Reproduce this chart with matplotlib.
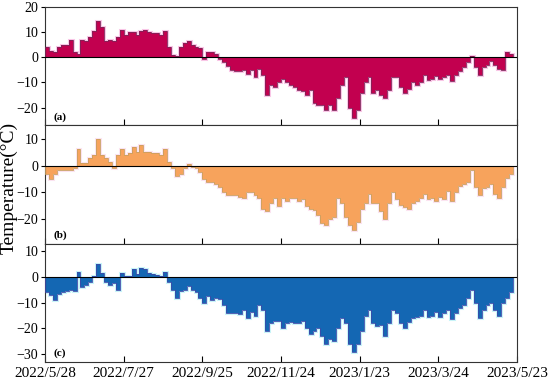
import numpy as np
import matplotlib
matplotlib.use('Agg')
import matplotlib.pyplot as plt
import matplotlib.dates as mdates
import datetime as dt

plt.rcParams['font.family'] = ['Liberation Serif', 'DejaVu Serif']

# 3-day mean temperature (degC), starting 2022/5/28
temp_a = [4, 2.5, 2, 4, 5, 5, 6.7, 2, 1.5, 7,
          6.5, 8, 10.5, 14.5, 12, 6.5, 7, 6.5, 8, 11,
          9, 10, 10, 9, 10.5, 11, 10, 9.5, 9.5, 9,
          10.5, 4, 1, 0.5, 4, 5.5, 6.5, 5, 4, 3.5,
          -0.5, 2, 2, 1.5, -0.5, -2, -3.5, -5, -5.5, -5.5,
          -5, -6.5, -5, -8, -4.5, -7, -15, -11, -12, -10,
          -8.5, -10, -11, -12, -13, -13.5, -15, -13, -18, -19,
          -19, -21, -19, -21, -16, -11, -8, -20, -24, -21,
          -14, -10, -8, -14, -13, -15, -16, -13, -8, -8,
          -12, -14, -12.5, -10, -11, -10, -7, -9, -8.5, -7.5,
          -8.5, -8, -7, -9.5, -7, -5.5, -4, -2, 0.5, -4,
          -7, -4, -3, -1.5, -3, -4.5, -5, 2, 1.5]

temp_b = [-3, -5, -3, -1.5, -1.5, -1.5, -1.5, -1, 6, 1,
          1, 3, 4, 10, 4, 3, 1.5, -1, 4, 6,
          4, 4.5, 7, 5, 7.5, 5, 5, 4.5, 4.5, 4,
          6, 1.5, -1, -4, -3, -1, 0.5, -0.5, -1, -2.5,
          -5, -6, -6, -7, -8, -10, -11, -11, -11, -11.5,
          -12, -10, -10, -11, -12, -16, -17, -14, -12, -15,
          -12, -13, -12, -12, -13, -12.5, -15, -16, -16.5, -18.5,
          -21.5, -22, -20, -19, -12, -14, -19, -22, -24, -21,
          -16, -14, -10.5, -14, -14, -17, -20, -14, -10, -12.5,
          -14.5, -15.5, -16, -14, -13, -12, -10.5, -12.5, -12, -13,
          -11.5, -12.5, -9.5, -13, -10, -7.5, -7, -6, -1.5, -8,
          -11, -8.5, -8, -7, -10.5, -12, -8, -4.5, -3]

temp_c = [-6, -7, -9, -6.5, -6, -5.5, -5, -5.5, 2, -4,
          -3, -2, 0.5, 5, 1.5, -2, -3, -2.5, -5, 1.5,
          0.5, 0.3, 3, 1, 3.5, 3, 1.5, 1, 0.8, 0.3,
          2, -2, -5, -8, -5.5, -5, -3.5, -5, -6, -8,
          -10, -7.5, -9, -8, -8.5, -11, -14, -14, -14, -14.5,
          -13, -16, -13.5, -15, -11, -13, -21, -18, -17, -17,
          -20, -18, -17.5, -18, -18, -17, -20, -22, -21, -20,
          -23, -26, -24, -25, -20, -16, -18, -26, -29, -26,
          -21, -15, -13, -18, -19, -18.5, -23, -18, -13, -14,
          -18, -20, -17.5, -16, -15.5, -15, -13, -15.5, -15, -13.5,
          -15.5, -14, -13, -16.5, -14, -12, -11, -8, -5, -10,
          -16, -13, -11, -10, -13, -15, -10, -8, -6]

panels = [
    (temp_a, '(a)', (-27, 20), [-20, -10, 0, 10, 20], '#C2004F', '#7E2558', '#F9C6E6'),
    (temp_b, '(b)', (-29, 15), [-20, -10, 0, 10], '#F7A35C', '#C9A060', '#FBE3F0'),
    (temp_c, '(c)', (-33, 13), [-30, -20, -10, 0, 10], '#1467B3', '#3F48A8', '#C8F4F8'),
]

start = dt.date(2022, 5, 28)
end = dt.date(2023, 5, 23)

fig, axes = plt.subplots(3, 1, figsize=(5.5, 3.85), dpi=100, sharex=True)
fig.subplots_adjust(left=0.082, right=0.94, top=0.982, bottom=0.06, hspace=0)

for ax, (vals, lab, ylim, yt, col, dark, halo) in zip(axes, panels):
    n = len(vals)
    edges = [start + dt.timedelta(days=3 * k) for k in range(n + 1)]
    edges = mdates.date2num(edges)
    ax.stairs(vals, edges, baseline=0, fill=False, color=halo, lw=2.2, zorder=1)
    ax.stairs(vals, edges, baseline=0, fill=True, color=col, lw=0, zorder=2)
    ax.stairs(vals, edges, baseline=0, fill=False, color=dark, lw=0.6, zorder=3)
    ax.axhline(0, color='black', lw=0.8, zorder=4)
    ax.set_ylim(*ylim)
    ax.set_yticks(yt)
    ax.tick_params(axis='y', direction='out', length=3, labelsize=10, width=0.8, pad=2)
    ax.tick_params(axis='x', direction='in', length=4, labelsize=11, width=0.8)
    ax.text(0.017, 0.07, lab, transform=ax.transAxes, fontsize=8,
            fontweight='bold', va='center', ha='left')
    for s in ax.spines.values():
        s.set_linewidth(0.8)
        s.set_color('#333333')

ticks = [start + dt.timedelta(days=60 * k) for k in range(7)]
axes[-1].set_xlim(mdates.date2num(start), mdates.date2num(end))
axes[-1].set_xticks(mdates.date2num(ticks))
axes[-1].xaxis.set_major_formatter(
    plt.FuncFormatter(lambda v, p: '{0.year}/{0.month}/{0.day}'.format(mdates.num2date(v))))

fig.text(0.016, 0.512, 'Temperature(°C)', rotation=90, va='center', ha='center', fontsize=14)

plt.savefig('out.png', dpi=100, facecolor='white')
